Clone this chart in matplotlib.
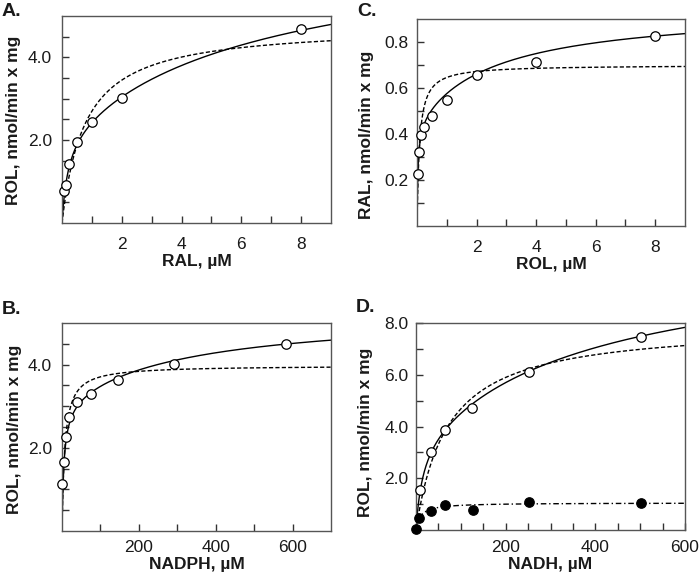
import numpy as np
import matplotlib
matplotlib.use("Agg")
import matplotlib.pyplot as plt

plt.rcParams['font.family'] = ['Liberation Sans', 'DejaVu Sans']
plt.rcParams['font.size'] = 12

# ---------------- data ----------------
# Panel A: RAL -> ROL (NADPH)
a_x = [0.0625, 0.125, 0.25, 0.5, 1, 2, 8]
a_y = [0.77, 0.91, 1.42, 1.96, 2.43, 3.02, 4.68]
a_solid = dict(v1=2.2, k1=0.2, v2=4.7, k2=7.0)   # two-site fit
a_dash = dict(v=4.78, k=0.77)                     # Michaelis-Menten fit

# Panel B: NADPH
b_x = [1.25, 5, 10, 19, 38, 75, 146, 292, 583]
b_y = [1.12, 1.66, 2.25, 2.75, 3.09, 3.30, 3.62, 4.01, 4.50]
b_solid = dict(v1=3.1, k1=5.0, v2=2.2, k2=320.0)
b_dash = dict(v=3.98, k=7.4)

# Panel C: ROL -> RAL
c_x = [0.03125, 0.0625, 0.125, 0.25, 0.5, 1, 2, 4, 8]
c_y = [0.225, 0.323, 0.397, 0.432, 0.480, 0.548, 0.658, 0.714, 0.828]
c_solid = dict(v1=0.45, k1=0.03, v2=0.50, k2=2.6)
c_dash = dict(v=0.70, k=0.084)

# Panel D: NADH
d_x_open = [9, 32.5, 64, 126, 252, 502]
d_y_open = [1.53, 3.03, 3.86, 4.73, 6.12, 7.44]
d_x_fill = [1, 7.5, 32.5, 64.5, 126.5, 252, 502]
d_y_fill = [0.05, 0.45, 0.75, 0.96, 0.78, 1.08, 1.05]
d_solid = dict(v1=3.5, k1=15.0, v2=7.42, k2=408.0)
d_dash = dict(v=7.96, k=70.0)
d_dashdot = dict(v=1.05, k=10.2)

panel_letters = ['A.', 'B.', 'C.', 'D.']
x_labels = ['RAL, µM', 'NADPH, µM', 'ROL, µM', 'NADH, µM']
y_labels = ['ROL, nmol/min x mg', 'ROL, nmol/min x mg',
            'RAL, nmol/min x mg', 'ROL, nmol/min x mg']

a_xticks = [1, 2, 3, 4, 5, 6, 7, 8]
a_xticklabels = ['', '2', '', '4', '', '6', '', '8']
a_yticks = [0.5, 1.0, 1.5, 2.0, 2.5, 3.0, 3.5, 4.0, 4.5]
a_yticklabels = ['', '', '', '2.0', '', '', '', '4.0', '']
b_xticks = [100, 200, 300, 400, 500, 600]
b_xticklabels = ['', '200', '', '400', '', '600']
c_yticks = [0.1, 0.2, 0.3, 0.4, 0.5, 0.6, 0.7, 0.8]
c_yticklabels = ['', '0.2', '', '0.4', '', '0.6', '', '0.8']
d_xticks = [50, 100, 150, 200, 250, 300, 350, 400, 450, 500, 550, 600]
d_xticklabels = ['', '', '', '200', '', '', '', '400', '', '', '', '600']
d_yticks = [1, 2, 3, 4, 5, 6, 7, 8]
d_yticklabels = ['', '2.0', '', '4.0', '', '6.0', '', '8.0']


def two_site(x, v1, k1, v2, k2):
    return v1 * x / (k1 + x) + v2 * x / (k2 + x)


def mm(x, v, k):
    return v * x / (k + x)


def grid(xmax):
    return np.unique(np.concatenate([[0.0], np.geomspace(xmax * 1e-5, xmax, 400),
                                     np.linspace(0, xmax, 400)]))


fig = plt.figure(figsize=(7, 5.8), dpi=100)
W, H = 700.0, 580.0


def make_ax(box):
    l, r, t, b = box
    return fig.add_axes([l / W, 1 - b / H, (r - l) / W, (b - t) / H])


boxA = (62, 331, 16, 223)
boxB = (62, 331, 323, 531)
boxC = (417, 685, 19, 226)
boxD = (416, 685, 323, 530)
axA, axB, axC, axD = [make_ax(b) for b in (boxA, boxB, boxC, boxD)]

dash = (0, (3, 1.6))
dashdot = (0, (4, 2, 1, 2))
lw = 1.0
mk = dict(marker='o', ms=6.8, mew=0.9, mec='black', ls='none', zorder=5, clip_on=False)


def style(ax, box, xlim, ylim, xt, xtl, yt, ytl, xl, yl,
          xpad, ypad, xlab_top, ylab_right, ylab_cy):
    l, r, t, b = box
    ax.set_xlim(*xlim)
    ax.set_ylim(*ylim)
    ax.set_xticks(xt)
    ax.set_xticklabels(xtl)
    ax.set_yticks(yt)
    ax.set_yticklabels(ytl)
    ax.tick_params(direction='in', length=5, width=1.0, color='#333333',
                   labelsize=12.5, labelcolor='#1a1a1a')
    ax.tick_params(axis='x', pad=xpad)
    ax.tick_params(axis='y', pad=ypad)
    for s in ax.spines.values():
        s.set_color('#555555')
        s.set_linewidth(1.0)
    ax.set_xlabel(xl, fontsize=12.5, fontweight='bold', color='#1a1a1a')
    ax.set_ylabel(yl, fontsize=12.5, fontweight='bold', color='#1a1a1a')
    ax.xaxis.set_label_coords(0.5, (b - xlab_top) / (b - t))
    ax.yaxis.set_label_coords((ylab_right - l) / (r - l), (b - ylab_cy) / (b - t))


# Panel A
g = grid(9)
axA.plot(g, two_site(g, **a_solid), color='black', lw=lw)
axA.plot(g, mm(g, **a_dash), color='black', lw=lw, ls=dash)
axA.plot(a_x, a_y, mfc='white', **mk)
style(axA, boxA, (0, 9), (0, 5), a_xticks, a_xticklabels, a_yticks, a_yticklabels,
      x_labels[0], y_labels[0], 10.1, 7.2, 254, 21, 120)

# Panel B
g = grid(700)
axB.plot(g, two_site(g, **b_solid), color='black', lw=lw)
axB.plot(g, mm(g, **b_dash), color='black', lw=lw, ls=dash)
axB.plot(b_x, b_y, mfc='white', **mk)
style(axB, boxB, (0, 700), (0, 5), b_xticks, b_xticklabels, a_yticks, a_yticklabels,
      x_labels[1], y_labels[1], 6.8, 7.2, 557.5, 22, 429)

# Panel C
g = grid(9)
axC.plot(g, two_site(g, **c_solid), color='black', lw=lw)
axC.plot(g, mm(g, **c_dash), color='black', lw=lw, ls=dash)
axC.plot(c_x, c_y, mfc='white', **mk)
style(axC, boxC, (0, 9), (0, 0.9), a_xticks, a_xticklabels, c_yticks, c_yticklabels,
      x_labels[2], y_labels[2], 10.1, 6.3, 257, 374, 135)

# Panel D
g = grid(600)
axD.plot(g, two_site(g, **d_solid), color='black', lw=lw)
axD.plot(g, mm(g, **d_dash), color='black', lw=lw, ls=dash)
axD.plot(g, mm(g, **d_dashdot), color='black', lw=lw, ls=dashdot)
axD.plot(d_x_fill, d_y_fill, mfc='black', **mk)
axD.plot(d_x_open, d_y_open, mfc='white', **mk)
style(axD, boxD, (0, 600), (0, 8), d_xticks, d_xticklabels, d_yticks, d_yticklabels,
      x_labels[3], y_labels[3], 7.5, 5.5, 557.5, 373, 432)

# panel letters
for txt, (x, y) in zip(panel_letters, [(1.5, 3.5), (1.5, 301.5), (357, 3.5), (356, 299)]):
    fig.text(x / W, 1 - y / H, txt, fontsize=14, fontweight='bold',
             color='#1a1a1a', ha='left', va='top')

fig.savefig('out.png', dpi=100)
